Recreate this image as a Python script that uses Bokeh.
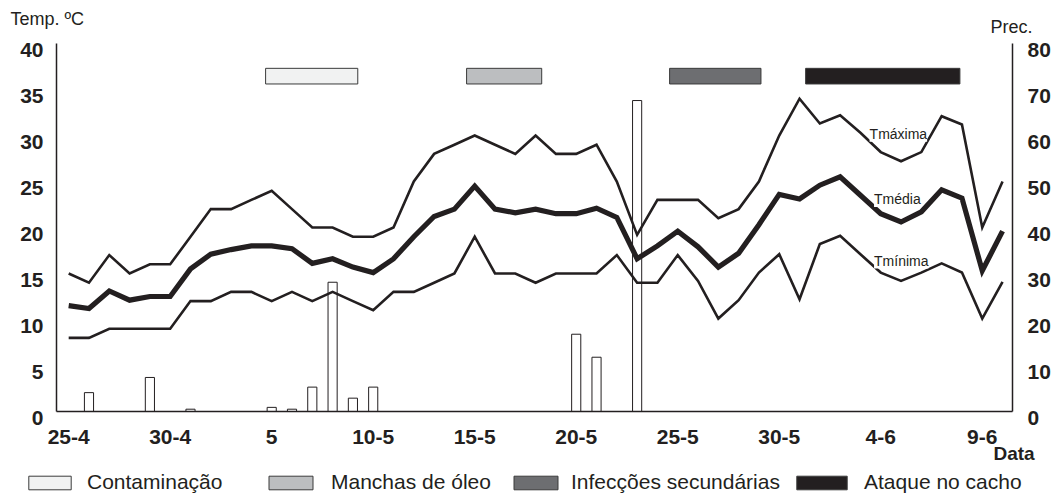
from bokeh.plotting import figure
from bokeh.models import Range1d, LinearAxis, FixedTicker, Label, Legend, LegendItem
from bokeh.embed import file_html
from bokeh.resources import INLINE

FONT = "Liberation Sans"
INK = "#231f20"

# ---------------- data ----------------
days = list(range(47))  # day index from 25-4 to 10-6
tick_days = [0, 5, 10, 15, 20, 25, 30, 35, 40, 45]
tick_labels = ["25-4", "30-4", "5", "10-5", "15-5", "20-5", "25-5", "30-5", "4-6", "9-6"]
temp_ticks = [0, 5, 10, 15, 20, 25, 30, 35, 40]
prec_ticks = [0, 10, 20, 30, 40, 50, 60, 70, 80]

tmax = [15, 14, 17, 15, 16, 16, 19, 22, 22, 23, 24, 22, 20, 20, 19, 19, 20, 25, 28, 29,
        30, 29, 28, 30, 28, 28, 29, 25, 19.2, 23, 23, 23, 21, 22, 25, 30, 34, 31.3, 32.2,
        30.3, 28.2, 27.2, 28.2, 32.1, 31.2, 20, 25]
tmed = [11.5, 11.2, 13.1, 12.1, 12.5, 12.5, 15.5, 17.1, 17.6, 18.0, 18.0, 17.7, 16.1, 16.6,
        15.7, 15.1, 16.6, 19.0, 21.2, 22.0, 24.5, 22.0, 21.6, 22.0, 21.5, 21.5, 22.1, 21.1,
        16.6, 18.0, 19.6, 17.9, 15.7, 17.2, 20.3, 23.6, 23.1, 24.6, 25.5, 23.5, 21.5, 20.6,
        21.7, 24.1, 23.2, 15.3, 19.6]
tmin = [8, 8, 9, 9, 9, 9, 12, 12, 13, 13, 12, 13, 12, 13, 12, 11, 13, 13, 14, 15, 19, 15,
        15, 14, 15, 15, 15, 17, 14, 14, 17, 14.2, 10.1, 12.1, 15.1, 17.1, 12.2, 18.2, 19.1,
        17.1, 15.1, 14.2, 15.1, 16.1, 15.1, 10.1, 14.1]

prec_days = [1, 4, 6, 10, 11, 12, 13, 14, 15, 25, 26, 28]
prec_mm = [4.1, 7.4, 0.5, 0.9, 0.5, 5.3, 28.1, 2.9, 5.3, 16.8, 11.8, 67.6]

phase_names = ["Contaminação", "Manchas de óleo", "Infecções secundárias", "Ataque no cacho"]
phase_start = [9.7, 19.6, 29.6, 36.3]
phase_end = [14.24, 23.3, 34.1, 43.9]
phase_colors = ["#f1f2f2", "#bcbec0", "#6d6e71", "#231f20"]
phase_low, phase_high = 35.6, 37.3

# ---------------- geometry (pixels) ----------------
W, H = 1052, 495
X_LEFT, X_RIGHT = -0.6, 46.49      # day-index limits of the plotting area
AX_L, AX_R = 56, 1012              # pixel x of left / right axis
AX_B, AX_T = 411, 43               # pixel y of baseline / top
LABEL_DROP = 6                     # y tick labels sit a few px below their ticks
px_day = (AX_R - AX_L) / (X_RIGHT - X_LEFT)
px_deg = (AX_B - AX_T) / 40.0
px_mm = (AX_B - AX_T) / 80.0

x_range = Range1d(X_LEFT - AX_L / px_day, X_RIGHT + (W - AX_R) / px_day)
y_range = Range1d(-(H - AX_B) / px_deg, AX_B / px_deg)
prec_range = Range1d(-(H - AX_B) / px_mm, AX_B / px_mm)

p = figure(width=W, height=H, output_backend="svg", toolbar_location=None,
           x_range=x_range, y_range=y_range, min_border=0,
           x_axis_location=None, y_axis_location=None)
p.outline_line_color = None
p.xgrid.visible = False
p.ygrid.visible = False
p.background_fill_color = "white"
p.border_fill_color = "white"

p.extra_y_ranges = {
    "prec": prec_range,
    "temp_lbl": Range1d(y_range.start + LABEL_DROP / px_deg, y_range.end + LABEL_DROP / px_deg),
    "prec_lbl": Range1d(prec_range.start + LABEL_DROP / px_mm, prec_range.end + LABEL_DROP / px_mm),
    "px": Range1d(H, 0),
}
p.extra_x_ranges = {"px": Range1d(0, W)}


def style(ax, line=True, labels=True):
    ax.major_tick_line_color = None
    ax.minor_tick_line_color = None
    ax.major_tick_out = 0
    ax.major_tick_in = 0
    ax.minor_tick_out = 0
    ax.minor_tick_in = 0
    ax.major_label_text_font = FONT
    ax.major_label_text_font_style = "bold"
    ax.major_label_text_font_size = "21px"
    ax.major_label_text_color = INK if labels else None
    ax.axis_line_color = INK if line else None
    ax.axis_line_width = 1.5


# x axis
xax = LinearAxis(fixed_location=0, bounds=(X_LEFT, X_RIGHT),
                 ticker=FixedTicker(ticks=tick_days))
style(xax)
xax.major_label_overrides = {d: s for d, s in zip(tick_days, tick_labels)}
xax.major_label_standoff = 18
p.add_layout(xax, "below")

# left temperature axis: line + labels
lax_line = LinearAxis(fixed_location=X_LEFT, bounds=(0, 40), ticker=FixedTicker(ticks=temp_ticks))
style(lax_line, labels=False)
lax_lbl = LinearAxis(fixed_location=X_LEFT, bounds=(0, 40), y_range_name="temp_lbl",
                     ticker=FixedTicker(ticks=temp_ticks))
style(lax_lbl, line=False)
lax_lbl.major_label_standoff = 13
p.add_layout(lax_line, "left")
p.add_layout(lax_lbl, "left")

# right precipitation axis: line + labels
rax_line = LinearAxis(fixed_location=X_RIGHT, bounds=(0, 80), y_range_name="prec",
                      ticker=FixedTicker(ticks=prec_ticks))
style(rax_line, labels=False)
rax_lbl = LinearAxis(fixed_location=X_RIGHT, bounds=(0, 80), y_range_name="prec_lbl",
                     ticker=FixedTicker(ticks=prec_ticks))
style(rax_lbl, line=False)
rax_lbl.major_label_standoff = 15
p.add_layout(rax_line, "right")
p.add_layout(rax_lbl, "right")

# precipitation bars
p.vbar(x=prec_days, top=prec_mm, width=0.45, bottom=0, y_range_name="prec",
       fill_color="white", line_color=INK, line_width=1)

# temperature lines
p.line(days, tmax, line_width=2.6, color=INK, line_join="miter")
p.line(days, tmin, line_width=2.6, color=INK, line_join="miter")
p.line(days, tmed, line_width=5.2, color=INK, line_join="miter")

# line names
for txt, xx, yy in [("Tmáxima", 39.45, 30.2), ("Tmédia", 39.67, 23.1), ("Tmínima", 39.67, 16.4)]:
    p.add_layout(Label(x=xx, y=yy, text=txt, text_font=FONT, text_font_size="14px",
                       text_color=INK, text_baseline="middle", text_align="left",
                       background_fill_color="white"))

# phase bars + legend entries
legend_left = [23, 263, 508, 790]
legend_glyph_w = [53, 55, 55, 63]
legend_standoff = [11, 13, 8, 11]
for i, (name, s, e, c) in enumerate(zip(phase_names, phase_start, phase_end, phase_colors)):
    r = p.quad(left=[s], right=[e], bottom=[phase_low], top=[phase_high],
               fill_color=c, line_color="#3a3a3a", line_width=1)
    leg = Legend(items=[LegendItem(label=name, renderers=[r])],
                 location=(legend_left[i], 1), orientation="horizontal",
                 glyph_width=legend_glyph_w[i], glyph_height=17,
                 label_standoff=legend_standoff[i], padding=0, margin=0, spacing=0,
                 border_line_color=None, background_fill_alpha=0,
                 label_text_font=FONT, label_text_font_size="21px", label_text_color=INK)
    p.add_layout(leg)

# axis titles (pixel placement)
for txt, xx, yy, size, fstyle in [("Temp. ºC", 10, 18, "18px", "normal"),
                                  ("Prec.", 990, 26.5, "18px", "normal"),
                                  ("Data", 993, 453, "19px", "bold")]:
    p.add_layout(Label(x=xx, y=yy, x_range_name="px", y_range_name="px", text=txt,
                       text_font=FONT, text_font_size=size, text_font_style=fstyle,
                       text_color=INK, text_baseline="middle", text_align="left"))

open("out.html", "w").write(file_html(p, INLINE))
